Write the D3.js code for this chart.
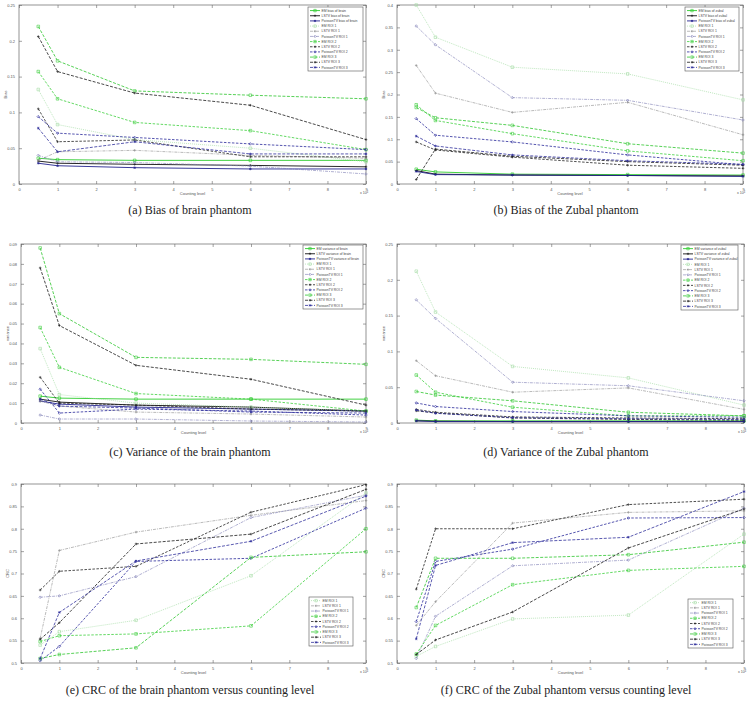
<!DOCTYPE html>
<html><head><meta charset="utf-8">
<script src="https://cdn.jsdelivr.net/npm/d3@7"></script>
<style>body{margin:0;background:#fff}svg{display:block}</style>
</head><body>
<svg id="c" width="750" height="703"></svg>
<script>
// ---------- DATA ----------
const countingLevels = [0.5, 1, 3, 6, 9];
const xTicks = [0,1,2,3,4,5,6,7,8,9];

const namesBiasBrain = ["EM bias of brain","LSTV bias of brain","PoissonTV bias of brain","EM ROI 1","LSTV ROI 1","PoissonTV ROI 1","EM ROI 2","LSTV ROI 2","PoissonTV ROI 2","EM ROI 3","LSTV ROI 3","PoissonTV ROI 3"];
const namesBiasZubal = ["EM bias of zubal","LSTV bias of zubal","PoissonTV bias of zubal","EM ROI 1","LSTV ROI 1","PoissonTV ROI 1","EM ROI 2","LSTV ROI 2","PoissonTV ROI 2","EM ROI 3","LSTV ROI 3","PoissonTV ROI 3"];
const namesVarBrain = ["EM variance of brain","LSTV variance of brain","PoissonTV variance of brain","EM ROI 1","LSTV ROI 1","PoissonTV ROI 1","EM ROI 2","LSTV ROI 2","PoissonTV ROI 2","EM ROI 3","LSTV ROI 3","PoissonTV ROI 3"];
const namesVarZubal = ["EM variance of zubal","LSTV variance of zubal","PoissonTV variance of zubal","EM ROI 1","LSTV ROI 1","PoissonTV ROI 1","EM ROI 2","LSTV ROI 2","PoissonTV ROI 2","EM ROI 3","LSTV ROI 3","PoissonTV ROI 3"];
const namesCRC = ["EM ROI 1","LSTV ROI 1","PoissonTV ROI 1","EM ROI 2","LSTV ROI 2","PoissonTV ROI 2","EM ROI 3","LSTV ROI 3","PoissonTV ROI 3"];

const biasBrain = [
  [0.036, 0.034, 0.033, 0.033, 0.033],
  [0.032, 0.029, 0.0275, 0.026, 0.024],
  [0.029, 0.0255, 0.0228, 0.021, 0.021],
  [0.132, 0.083, 0.062, 0.05, 0.031],
  [0.033, 0.045, 0.047, 0.040, 0.036],
  [0.040, 0.031, 0.030, 0.025, 0.014],
  [0.157, 0.119, 0.086, 0.0745, 0.048],
  [0.105, 0.059, 0.0615, 0.038, 0.038],
  [0.094, 0.071, 0.065, 0.056, 0.048],
  [0.220, 0.172, 0.130, 0.124, 0.119],
  [0.206, 0.157, 0.127, 0.110, 0.062],
  [0.078, 0.045, 0.059, 0.042, 0.042]
];
const biasZubal = [
  [0.033, 0.027, 0.022, 0.021, 0.020],
  [0.030, 0.022, 0.020, 0.019, 0.018],
  [0.028, 0.021, 0.020, 0.019, 0.017],
  [0.400, 0.328, 0.261, 0.246, 0.188],
  [0.265, 0.203, 0.160, 0.1825, 0.110],
  [0.353, 0.311, 0.193, 0.187, 0.143],
  [0.177, 0.142, 0.1125, 0.074, 0.052],
  [0.094, 0.076, 0.060, 0.042, 0.035],
  [0.146, 0.109, 0.094, 0.065, 0.043],
  [0.171, 0.148, 0.131, 0.090, 0.069],
  [0.010, 0.078, 0.062, 0.050, 0.042],
  [0.107, 0.085, 0.065, 0.052, 0.044]
];
const varBrain = [
  [0.0135, 0.0125, 0.012, 0.012, 0.012],
  [0.012, 0.0105, 0.009, 0.008, 0.006],
  [0.011, 0.0095, 0.008, 0.007, 0.006],
  [0.0374, 0.0143, 0.010, 0.008, 0.006],
  [0.011, 0.0085, 0.0055, 0.0045, 0.003],
  [0.004, 0.002, 0.002, 0.001, 0.0005],
  [0.048, 0.028, 0.0148, 0.012, 0.006],
  [0.023, 0.010, 0.009, 0.007, 0.006],
  [0.017, 0.005, 0.007, 0.006, 0.004],
  [0.088, 0.055, 0.033, 0.032, 0.0295],
  [0.078, 0.049, 0.029, 0.022, 0.009],
  [0.012, 0.0085, 0.0075, 0.0055, 0.005]
];
const varZubal = [
  [0.004, 0.003, 0.003, 0.003, 0.003],
  [0.003, 0.0025, 0.002, 0.002, 0.002],
  [0.003, 0.002, 0.002, 0.002, 0.002],
  [0.212, 0.155, 0.079, 0.063, 0.025],
  [0.087, 0.066, 0.043, 0.049, 0.019],
  [0.172, 0.146, 0.057, 0.052, 0.031],
  [0.067, 0.043, 0.022, 0.010, 0.010],
  [0.019, 0.015, 0.0085, 0.007, 0.006],
  [0.028, 0.023, 0.016, 0.010, 0.008],
  [0.044, 0.039, 0.031, 0.015, 0.010],
  [0.017, 0.014, 0.007, 0.005, 0.004],
  [0.018, 0.0135, 0.0075, 0.006, 0.005]
];
const crcBrain = [
  [0.540, 0.570, 0.5955, 0.695, 0.880],
  [0.555, 0.7515, 0.7925, 0.830, 0.863],
  [0.647, 0.650, 0.693, 0.825, 0.875],
  [0.548, 0.561, 0.565, 0.583, 0.800],
  [0.663, 0.705, 0.716, 0.837, 0.8985],
  [0.505, 0.537, 0.727, 0.734, 0.846],
  [0.510, 0.519, 0.534, 0.736, 0.7485],
  [0.553, 0.590, 0.766, 0.788, 0.888],
  [0.510, 0.613, 0.728, 0.772, 0.873]
];
const crcZubal = [
  [0.515, 0.537, 0.5985, 0.607, 0.788],
  [0.584, 0.637, 0.8127, 0.8366, 0.840],
  [0.510, 0.6045, 0.7172, 0.730, 0.846],
  [0.520, 0.584, 0.675, 0.707, 0.716],
  [0.665, 0.800, 0.800, 0.854, 0.866],
  [0.5925, 0.727, 0.7545, 0.824, 0.825],
  [0.624, 0.734, 0.734, 0.742, 0.770],
  [0.519, 0.5515, 0.614, 0.757, 0.844],
  [0.554, 0.718, 0.769, 0.781, 0.883]
];

const yTicksBiasBrain = [0, 0.05, 0.1, 0.15, 0.2, 0.25];
const yTicksBiasZubal = [0, 0.05, 0.1, 0.15, 0.2, 0.25, 0.3, 0.35, 0.4];
const yTicksVarBrain = [0, 0.01, 0.02, 0.03, 0.04, 0.05, 0.06, 0.07, 0.08, 0.09];
const yTicksVarZubal = [0, 0.05, 0.1, 0.15, 0.2, 0.25];
const yTicksCRC = [0.5, 0.55, 0.6, 0.65, 0.7, 0.75, 0.8, 0.85, 0.9];

const captions = ["(a) Bias of brain phantom","(b) Bias of the Zubal phantom","(c) Variance of the brain phantom","(d) Variance of the Zubal phantom","(e) CRC of the brain phantom versus counting level","(f) CRC of the Zubal phantom versus counting level"];

// ---------- STYLES ----------
const styles = [
  {c:"#2ecc2e", dash:null, m:"square", w:0.9},
  {c:"#111111", dash:null, m:"plus", w:0.9},
  {c:"#24248f", dash:null, m:"star", w:0.9},
  {c:"#a5dca5", dash:"1,1", m:"square", w:0.7},
  {c:"#8c8c8c", dash:"3,1,1,1", m:"plus", w:0.6},
  {c:"#7c7cb4", dash:"3,1,1,1", m:"diamond", w:0.6},
  {c:"#3ccf3c", dash:"2.5,1.5", m:"square", w:0.8},
  {c:"#222222", dash:"2.5,1.5", m:"plus", w:0.8},
  {c:"#2a2a9a", dash:"2.5,1.5", m:"diamond", w:0.8},
  {c:"#45cc45", dash:"3,1.5", m:"square", w:0.9},
  {c:"#1a1a1a", dash:"3,1.5", m:"plus", w:0.8},
  {c:"#30309c", dash:"3,1.5", m:"star", w:0.8}
];

function markerPath(type, s) {
  const h = s/2;
  if (type === "square") return `M${-h},${-h}H${h}V${h}H${-h}Z`;
  if (type === "plus") return `M${-h},0H${h}M0,${-h}V${h}`;
  if (type === "diamond") return `M0,${-h}L${h},0L0,${h}L${-h},0Z`;
  if (type === "star") return `M${-h},0H${h}M0,${-h}V${h}M${-h*0.7},${-h*0.7}L${h*0.7},${h*0.7}M${-h*0.7},${h*0.7}L${h*0.7},${-h*0.7}`;
  return "";
}

const svg = d3.select("#c");
const sansFont = "'Liberation Sans', Arial, sans-serif";

function drawPanel(cfg) {
  const g = svg.append("g");
  const x = d3.scaleLinear().domain([0, 9]).range([cfg.left, cfg.right]);
  const y = d3.scaleLinear().domain(cfg.yDomain).range([cfg.bottom, cfg.top]);

  g.append("rect").attr("x", cfg.left).attr("y", cfg.top)
    .attr("width", cfg.right - cfg.left).attr("height", cfg.bottom - cfg.top)
    .attr("fill", "none").attr("stroke", "#666").attr("stroke-width", 0.7);

  const styleAxis = sel => {
    sel.select(".domain").remove();
    sel.selectAll(".tick line").attr("stroke", "#666").attr("stroke-width", 0.6);
    sel.selectAll(".tick text").attr("fill", "#555").style("font-family", sansFont).style("font-size", "4px");
  };
  g.append("g").attr("transform", `translate(0,${cfg.bottom})`)
    .call(d3.axisBottom(x).tickValues(xTicks).tickSizeInner(-3).tickSizeOuter(0).tickPadding(4).tickFormat(d3.format("d")))
    .call(styleAxis);
  g.append("g").attr("transform", `translate(0,${cfg.top})`)
    .call(d3.axisTop(x).tickValues(xTicks).tickSizeInner(-3).tickSizeOuter(0).tickFormat(""))
    .call(styleAxis);
  g.append("g").attr("transform", `translate(${cfg.left},0)`)
    .call(d3.axisLeft(y).tickValues(cfg.yTicks).tickSizeInner(-3).tickSizeOuter(0).tickPadding(4).tickFormat(d => String(+d.toFixed(3))))
    .call(styleAxis);
  g.append("g").attr("transform", `translate(${cfg.right},0)`)
    .call(d3.axisRight(y).tickValues(cfg.yTicks).tickSizeInner(-3).tickSizeOuter(0).tickFormat(""))
    .call(styleAxis);

  g.append("text").attr("x", (cfg.left + cfg.right) / 2).attr("y", cfg.bottom + 11)
    .attr("text-anchor", "middle").attr("fill", "#555").style("font-family", sansFont).style("font-size", "4px")
    .text("Counting level");
  const xe = g.append("text").attr("x", cfg.right - 6).attr("y", cfg.bottom + 10)
    .attr("fill", "#555").style("font-family", sansFont).style("font-size", "3.6px");
  xe.append("tspan").text("x 10");
  xe.append("tspan").attr("dy", -1.5).style("font-size", "2.6px").text("4");
  g.append("text").attr("transform", `translate(${cfg.left - 12},${(cfg.top + cfg.bottom) / 2}) rotate(-90)`)
    .attr("text-anchor", "middle").attr("fill", "#555").style("font-family", sansFont).style("font-size", "4px")
    .text(cfg.ylabel);

  const line = d3.line().x((d, i) => x(countingLevels[i])).y(d => y(d));
  cfg.data.forEach((vals, k) => {
    const st = styles[cfg.styleIdx[k]];
    const s = g.append("g");
    s.append("path").attr("d", line(vals)).attr("fill", "none")
      .attr("stroke", st.c).attr("stroke-width", st.w)
      .attr("stroke-dasharray", st.dash);
    s.selectAll("path.m").data(vals).join("path").attr("class", "m")
      .attr("transform", (d, i) => `translate(${x(countingLevels[i])},${y(d)})`)
      .attr("d", markerPath(st.m, 2.6)).attr("fill", "none")
      .attr("stroke", st.c).attr("stroke-width", 0.6);
  });

  const L = cfg.legend;
  const lg = g.append("g");
  lg.append("rect").attr("x", L.x).attr("y", L.y).attr("width", L.w).attr("height", L.h)
    .attr("fill", "#fff").attr("stroke", "#555").attr("stroke-width", 0.6);
  const n = cfg.names.length;
  const rh = (L.h - 2) / n;
  cfg.names.forEach((nm, k) => {
    const st = styles[cfg.styleIdx[k]];
    const yy = L.y + 1 + rh * (k + 0.5);
    lg.append("line").attr("x1", L.x + 2).attr("x2", L.x + 12).attr("y1", yy).attr("y2", yy)
      .attr("stroke", st.c).attr("stroke-width", st.w).attr("stroke-dasharray", st.dash);
    lg.append("path").attr("transform", `translate(${L.x + 7},${yy})`).attr("d", markerPath(st.m, 2.4))
      .attr("fill", "none").attr("stroke", st.c).attr("stroke-width", 0.6);
    lg.append("text").attr("x", L.x + 13.5).attr("y", yy + 1.2).attr("fill", "#444")
      .style("font-family", sansFont).style("font-size", "3.4px").text(nm);
  });

  svg.append("text").attr("x", cfg.capX).attr("y", cfg.capY).attr("text-anchor", "middle")
    .attr("fill", "#222").style("font-family", "'Liberation Serif', 'DejaVu Serif', serif").style("font-size", "12px")
    .text(cfg.caption);
}

const all12 = [0,1,2,3,4,5,6,7,8,9,10,11];
const roi9 = [3,4,5,6,7,8,9,10,11];

drawPanel({left:19, right:366, top:5, bottom:184, yDomain:[0,0.25], yTicks:yTicksBiasBrain, data:biasBrain, names:namesBiasBrain, styleIdx:all12, ylabel:"Bias", legend:{x:308,y:7,w:55,h:64}, caption:captions[0], capX:190, capY:214});
drawPanel({left:397, right:743, top:5, bottom:184, yDomain:[0,0.4], yTicks:yTicksBiasZubal, data:biasZubal, names:namesBiasZubal, styleIdx:all12, ylabel:"Bias", legend:{x:685,y:7,w:54,h:64}, caption:captions[1], capX:566, capY:214});
drawPanel({left:21, right:366, top:244, bottom:423, yDomain:[0,0.09], yTicks:yTicksVarBrain, data:varBrain, names:namesVarBrain, styleIdx:all12, ylabel:"variance", legend:{x:303,y:245,w:60,h:64}, caption:captions[2], capX:190, capY:456});
drawPanel({left:397, right:744, top:244, bottom:423, yDomain:[0,0.25], yTicks:yTicksVarZubal, data:varZubal, names:namesVarZubal, styleIdx:all12, ylabel:"variance", legend:{x:681,y:245,w:57,h:65}, caption:captions[3], capX:566, capY:456});
drawPanel({left:21, right:366, top:484, bottom:663, yDomain:[0.5,0.9], yTicks:yTicksCRC, data:crcBrain, names:namesCRC, styleIdx:roi9, ylabel:"CRC", legend:{x:309,y:597,w:44,h:49}, caption:captions[4], capX:190, capY:694});
drawPanel({left:397, right:744, top:484, bottom:663, yDomain:[0.5,0.9], yTicks:yTicksCRC, data:crcZubal, names:namesCRC, styleIdx:roi9, ylabel:"CRC", legend:{x:688,y:599,w:45,h:49}, caption:captions[5], capX:566, capY:694});
</script>
</body></html>
